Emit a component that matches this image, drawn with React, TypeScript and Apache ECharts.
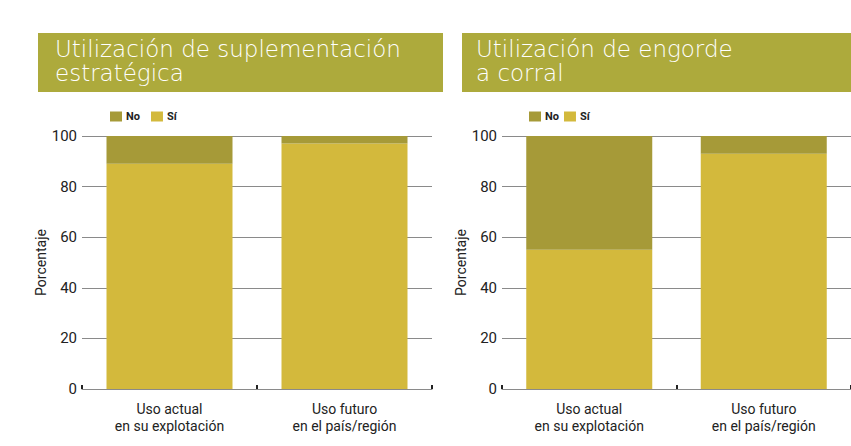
import React, { useEffect, useRef } from "react";
import * as echarts from "echarts";

const categories = ["Uso actual\nen su explotación", "Uso futuro\nen el país/región"];
const yTicks = [0, 20, 40, 60, 80, 100];
const titles = ["Utilización de suplementación\nestratégica", "Utilización de engorde\na corral"];
const suplSi = [89, 97];
const suplNo = [11, 3];
const corralSi = [55, 93];
const corralNo = [45, 7];

const COND = "Roboto, 'Liberation Sans Narrow', sans-serif";
const NO_COLOR = "#A69A38";
const SI_COLOR = "#D3B93C";
const BANNER = "#ADAA3C";

export default function App() {
  const ref = useRef<HTMLDivElement>(null);
  useEffect(() => {
    if (!ref.current) return;
    const chart = echarts.init(ref.current, null, { renderer: "svg" });
    const grids = [
      { left: 82, top: 136, width: 350, height: 253 },
      { left: 502, top: 136, width: 350, height: 253 },
    ];
    const xAxis = grids.map((_, i) => ({
      type: "category",
      gridIndex: i,
      data: categories,
      axisLine: { show: true, lineStyle: { color: "#8a8a8a", width: 1 } },
      axisTick: { show: true, inside: true, length: 4, lineStyle: { color: "#222", width: 2 } },
      axisLabel: {
        fontFamily: COND,
        fontSize: 14,
        lineHeight: 17,
        color: "#222",
        margin: 11,
      },
    }));
    const yAxis = grids.map((_, i) => ({
      type: "value",
      gridIndex: i,
      min: yTicks[0],
      max: yTicks[yTicks.length - 1],
      interval: 20,
      name: "Porcentaje",
      nameLocation: "middle",
      nameGap: 26,
      nameRotate: 90,
      nameTextStyle: { fontFamily: COND, fontSize: 14, color: "#222" },
      axisLine: { show: false },
      axisTick: { show: false },
      axisLabel: { fontFamily: COND, fontSize: 15, color: "#222", margin: 5 },
      splitLine: { show: true, lineStyle: { color: "#8a8a8a", width: 1 } },
    }));
    const mk = (name: string, data: number[], color: string, idx: number) => ({
      name,
      type: "bar",
      stack: "s" + idx,
      xAxisIndex: idx,
      yAxisIndex: idx,
      data,
      barWidth: 126,
      itemStyle: { color },
    });
    const series = [
      mk("Sí", suplSi, SI_COLOR, 0),
      mk("No", suplNo, NO_COLOR, 0),
      mk("Sí", corralSi, SI_COLOR, 1),
      mk("No", corralNo, NO_COLOR, 1),
    ];
    const legendBase = {
      data: ["No", "Sí"],
      top: 111,
      itemWidth: 12,
      itemHeight: 10,
      icon: "rect",
      textStyle: { fontFamily: COND, fontSize: 11, fontWeight: "bold", color: "#222", padding: [0, 0, 0, -1] },
      padding: 0,
    };
    const titleStyle = {
      fill: "#ffffff",
      font: "300 23px 'DejaVu Sans', 'Open Sans', sans-serif",
      lineHeight: 24,
      verticalAlign: "top",
    };
    chart.setOption({
      animation: false,
      backgroundColor: "#ffffff",
      grid: grids,
      xAxis,
      yAxis,
      series,
      legend: [
        { ...legendBase, left: 110, itemGap: 11 },
        { ...legendBase, left: 529, itemGap: 5 },
      ],
      graphic: [
        { type: "rect", shape: { x: 38, y: 33, width: 405, height: 59 }, style: { fill: BANNER } },
        { type: "rect", shape: { x: 462, y: 33, width: 400, height: 59 }, style: { fill: BANNER } },
        { type: "text", x: 55, y: 37, style: { ...titleStyle, text: titles[0] } },
        { type: "text", x: 476, y: 37, style: { ...titleStyle, text: titles[1] } },
      ],
    });
    return () => chart.dispose();
  }, []);
  return (
    <div
      ref={ref}
      style={{ position: "absolute", left: 0, top: 0, width: 851, height: 446 }}
    />
  );
}
